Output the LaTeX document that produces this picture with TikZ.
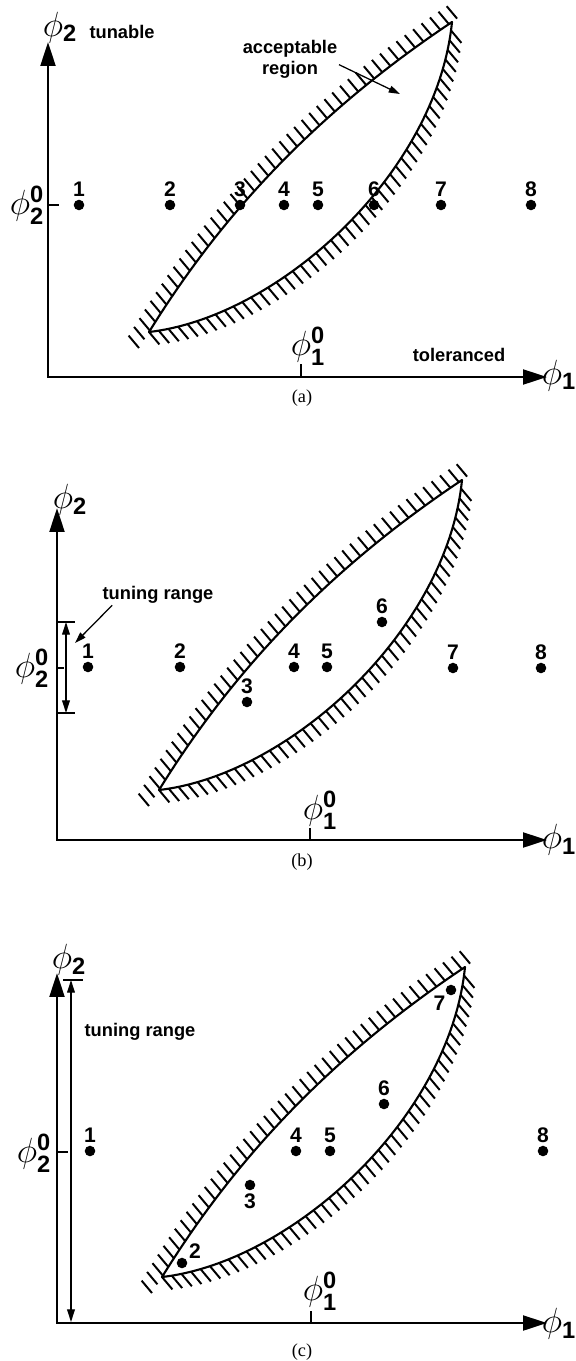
\documentclass[tikz,border=0pt]{standalone}
\usepackage{amsmath}
\usepackage{fontspec}
\setmainfont{Liberation Serif}
\setsansfont{Liberation Sans}
\usepackage{tikz}
\usetikzlibrary{positioning,arrows.meta,decorations.markings}
\newcommand{\phax}[1]{\phi_{\textsf{\bfseries #1}}}
\newcommand{\phnom}[1]{\phi^{\textsf{\bfseries 0}}_{\textsf{\bfseries #1}}}
\tikzset{
  axisline/.style={line width=1.9pt, {Triangle[length=17pt,width=10.5pt]}-{Triangle[length=17pt,width=10.5pt]}},
  rim/.style={line width=1.5pt, line join=round},
  tickline/.style={line width=0.8pt},
  pointer/.style={line width=0.9pt, -{Triangle[length=8pt,width=5pt]}},
  tunearrow/.style={line width=0.9pt, {Triangle[length=9pt,width=5.5pt]}-{Triangle[length=9pt,width=5.5pt]}},
  dot/.style={circle, fill, inner sep=0pt, minimum size=7.5pt},
  num/.style={font=\sffamily\bfseries\fontsize{15}{17}\selectfont, inner sep=1pt},
  txt/.style={font=\sffamily\bfseries\fontsize{13}{15}\selectfont, inner sep=1pt},
  philab/.style={font=\fontsize{24}{28}\selectfont, inner sep=0pt},
  caption/.style={font=\rmfamily\fontsize{13}{15}\selectfont},
  hatch up/.style={decorate, decoration={markings,
      mark=between positions 0 and 1 step 7.3pt with {\pgftransformresetnontranslations
        \draw[line width=1.4pt] (0,0) -- (130:11.5pt);}}},
  hatch down/.style={decorate, decoration={markings,
      mark=between positions 0 and 1 step 7pt with {\pgftransformresetnontranslations
        \draw[line width=1.4pt] (0,0) -- (-50:11.5pt);}}},
  pics/lens/.style={code={
      \path[hatch up] (-10,16) -- (0,0) .. controls (65,-105) and (156,-212) .. (303,-310) -- (315,-318);
      \path[hatch down] (0,0) .. controls (130,-15) and (288,-159) .. (303,-310);
      \draw[rim] (0,0) .. controls (65,-105) and (156,-212) .. (303,-310)
        .. controls (288,-159) and (130,-15) .. cycle;
    }}
}

\begin{document}
\begin{tikzpicture}[x=0.025cm, y=-0.025cm]
  \useasboundingbox (0,0) rectangle (576,1361);

  % (a)
  \coordinate (ay) at (48,42);
  \coordinate (ax) at (547,377);
  \draw[axisline] (ay) |- (ax);
  \pic at (149,332) {lens};
  \node[philab] (ap2) at (60,28) {$\phax{2}$};
  \node[txt] (atun) at (122,32) {tunable};
  \node[philab] (ap1) at (559,376) {$\phax{1}$};
  \node[txt] (atol) at (459,355) {toleranced};
  \node[philab] (ap20) at (27,205) {$\phnom{2}$};
  \draw[tickline] (48,205) -- (59,205);
  \node[philab] (ap10) at (308,346) {$\phnom{1}$};
  \draw[tickline] (301,364) -- (301,377);
  \node[txt, align=center] (aacc) at (290,59) {acceptable\\region};
  \coordinate (atip) at (400,94);
  \draw[pointer] ([yshift=-4pt]aacc.east) -- (atip);
  \node[dot] (a1) at (79,205) {};
  \node[dot] (a2) at (170,205) {};
  \node[dot] (a3) at (240,205) {};
  \node[dot] (a4) at (284,205) {};
  \node[dot] (a5) at (318,205) {};
  \node[dot] (a6) at (374,205) {};
  \node[dot] (a7) at (441,205) {};
  \node[dot] (a8) at (531,205) {};
  \node[num, above=1pt of a1] (a1n) {1};
  \node[num, above=1pt of a2] (a2n) {2};
  \node[num, above=1pt of a3] (a3n) {3};
  \node[num, above=1pt of a4] (a4n) {4};
  \node[num, above=1pt of a5] (a5n) {5};
  \node[num, above=1pt of a6] (a6n) {6};
  \node[num, above=1pt of a7] (a7n) {7};
  \node[num, above=1pt of a8] (a8n) {8};
  \node[caption] (acap) at (302,398) {(a)};

  % (b)
  \coordinate (by) at (57,508);
  \coordinate (bx) at (547,840);
  \draw[axisline] (by) |- (bx);
  \pic at (159,790) {lens};
  \node[philab] (bp2) at (70,500) {$\phax{2}$};
  \node[philab] (bp1) at (559,840) {$\phax{1}$};
  \node[philab] (bp20) at (32,668) {$\phnom{2}$};
  \draw[tickline] (57,668) -- (64,668);
  \node[philab] (bp10) at (320,810) {$\phnom{1}$};
  \draw[tickline] (310,828) -- (310,840);
  \coordinate (btop) at (66,622);
  \coordinate (bbot) at (66,713);
  \draw[tickline] (57,622) -- (75,622);
  \draw[tickline] (57,713) -- (75,713);
  \draw[tunearrow] (btop) -- (bbot);
  \node[txt] (btr) at (158,595) {tuning range};
  \coordinate (btip) at (75,643);
  \draw[pointer] ([xshift=8pt]btr.south west) -- (btip);
  \node[dot] (b1) at (88,667) {};
  \node[dot] (b2) at (180,667) {};
  \node[dot] (b3) at (247,702) {};
  \node[dot] (b4) at (294,667) {};
  \node[dot] (b5) at (327,667) {};
  \node[dot] (b6) at (382,622) {};
  \node[dot] (b7) at (453,668) {};
  \node[dot] (b8) at (541,668) {};
  \node[num, above=1pt of b1] (b1n) {1};
  \node[num, above=1pt of b2] (b2n) {2};
  \node[num, above=1pt of b3] (b3n) {3};
  \node[num, above=1pt of b4] (b4n) {4};
  \node[num, above=1pt of b5] (b5n) {5};
  \node[num, above=1pt of b6] (b6n) {6};
  \node[num, above=1pt of b7] (b7n) {7};
  \node[num, above=1pt of b8] (b8n) {8};
  \node[caption] (bcap) at (302,862) {(b)};

  % (c)
  \coordinate (cy) at (57,973);
  \coordinate (cx) at (547,1323);
  \draw[axisline] (cy) |- (cx);
  \pic at (162,1277) {lens};
  \node[philab] (cp2) at (69,960) {$\phax{2}$};
  \node[philab] (cp1) at (559,1324) {$\phax{1}$};
  \node[philab] (cp20) at (34,1153) {$\phnom{2}$};
  \draw[tickline] (57,1152) -- (68,1152);
  \node[philab] (cp10) at (320,1291) {$\phnom{1}$};
  \draw[tickline] (311,1311) -- (311,1323);
  \coordinate (ctop) at (71,980);
  \coordinate (cbot) at (71,1322);
  \draw[tickline] (63,980) -- (83,980);
  \draw[tunearrow] (ctop) -- (cbot);
  \node[txt] (ctr) at (140,1032) {tuning range};
  \node[dot] (c1) at (90,1151) {};
  \node[dot] (c2) at (182,1263) {};
  \node[dot] (c3) at (250,1185) {};
  \node[dot] (c4) at (296,1151) {};
  \node[dot] (c5) at (330,1151) {};
  \node[dot] (c6) at (384,1104) {};
  \node[dot] (c7) at (451,990) {};
  \node[dot] (c8) at (543,1151) {};
  \node[num, above=1pt of c1] (c1n) {1};
  \node[num, above right=-1pt and 1pt of c2] (c2n) {2};
  \node[num, below=1pt of c3] (c3n) {3};
  \node[num, above=1pt of c4] (c4n) {4};
  \node[num, above=1pt of c5] (c5n) {5};
  \node[num, above=1pt of c6] (c6n) {6};
  \node[num, below left=0pt and 0pt of c7] (c7n) {7};
  \node[num, above=1pt of c8] (c8n) {8};
  \node[caption] (ccap) at (302,1352) {(c)};
\end{tikzpicture}
\end{document}
